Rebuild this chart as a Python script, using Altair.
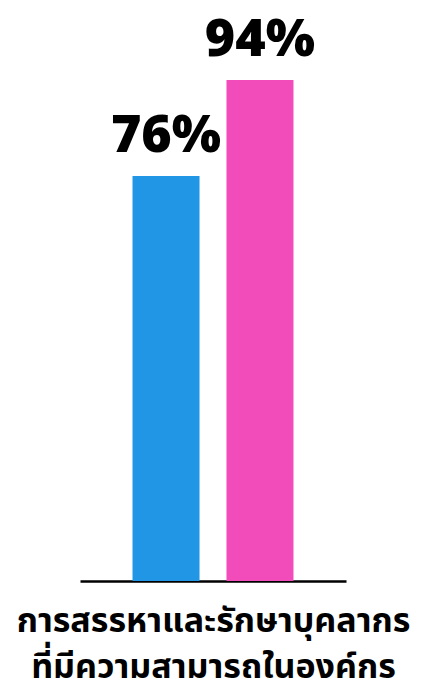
import altair as alt
import pandas as pd

categories = ["A", "B"]
values = [76, 94]
labels = ["76%", "94%"]
colors = ["#2196E5", "#F24CBA"]
title_lines = ["การสรรหาและรักษาบุคลากร", "ที่มีความสามารถในองค์กร"]

df = pd.DataFrame({"cat": categories, "val": values, "label": labels, "color": colors})

x = alt.X("cat:N", sort=categories,
          scale=alt.Scale(paddingInner=0.287, paddingOuter=0.559),
          axis=alt.Axis(labels=False, ticks=False, domainColor="black", domainWidth=2.5,
                        title=title_lines, titleFontSize=34, titleFont="Noto Sans Thai, Noto Sans, sans-serif",
                        titleFontWeight="bold", titleColor="black", titlePadding=23,
                        titleLineHeight=46))
y = alt.Y("val:Q", scale=alt.Scale(domain=[0, 100], nice=False), axis=None)

bars = alt.Chart(df).mark_bar(size=67).encode(
    x=x, y=y, color=alt.Color("color:N", scale=None)
)
text = alt.Chart(df).mark_text(baseline="alphabetic", dy=-24, fontSize=52, fontWeight=800,
                               font="Open Sans, Noto Sans", color="black").encode(
    x=alt.X("cat:N", sort=categories), y="val:Q", text="label:N"
)

chart = (bars + text).properties(
    width=266, height=533,
    autosize=alt.AutoSizeParams(type="none"),
    padding={"left": 80, "top": 48, "right": 85, "bottom": 113},
).configure(background="white").configure_view(stroke=None, strokeWidth=0)

chart.save("out.html", embed_options={"renderer": "svg", "actions": False})
